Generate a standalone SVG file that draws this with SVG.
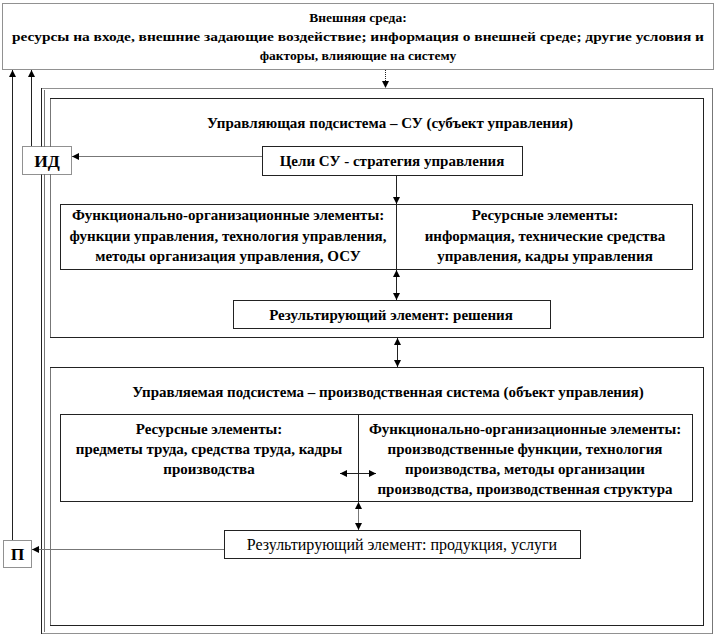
<svg xmlns="http://www.w3.org/2000/svg" width="716" height="637" viewBox="0 0 716 637" font-family="'Liberation Serif', 'DejaVu Serif', serif">
<defs>
<marker id="ah" viewBox="0 0 10 10" refX="10" refY="5" markerWidth="7" markerHeight="7" markerUnits="userSpaceOnUse" orient="auto-start-reverse"><path d="M0,0 L10,5 L0,10 z" fill="#000"/></marker>
</defs>
<style>
text{font-family:'Liberation Serif','DejaVu Serif',serif;font-size:15px;font-weight:bold;fill:#000;text-anchor:middle}
.top{font-size:13.5px}
.reg{font-weight:normal;font-size:16px}
.big{font-size:17.5px}
.box{fill:#fff;stroke:#222;stroke-width:1}
.dot{fill:#fff;stroke:#222;stroke-width:1;stroke-dasharray:1 1}
.ln{stroke:#222;stroke-width:1;fill:none}
.gl{stroke:#777;stroke-width:1;fill:none}
</style>
<rect width="716" height="637" fill="#fff"/>
<g id="env">
<rect class="dot" x="2.5" y="3.5" width="711" height="66"/>
<text class="top" x="358" y="22">Внешняя среда:</text>
<text class="top" x="358" y="41" textLength="692" lengthAdjust="spacingAndGlyphs">ресурсы на входе, внешние задающие воздействие; информация о внешней среде; другие условия и</text>
<text class="top" x="358" y="60">факторы, влияющие на систему</text>
</g>
<g id="frame">
<rect class="dot" x="41.5" y="88.5" width="671" height="545"/>
<line class="ln" x1="41.5" y1="88" x2="41.5" y2="634"/>
<line class="gl" x1="44.5" y1="90" x2="44.5" y2="632"/>
<line class="gl" x1="712.5" y1="88" x2="712.5" y2="634"/>
</g>
<g id="su">
<rect class="box" x="50.5" y="98.5" width="653" height="239"/>
<line class="gl" x1="50.5" y1="99" x2="50.5" y2="337"/>
<text x="390" y="128">Управляющая подсистема – СУ (субъект управления)</text>
</g>
<g id="id">
<rect class="dot" x="22.5" y="146.5" width="49" height="28"/>
<text class="big" x="47" y="167">ИД</text>
</g>
<g id="goals">
<rect class="box" x="262.5" y="146.5" width="260" height="29"/>
<text x="392" y="166">Цели СУ - стратегия управления</text>
</g>
<g id="su-elements">
<rect class="box" x="60.5" y="204.5" width="632" height="65"/>
<text x="228" y="220">Функционально-организационные элементы:</text>
<text x="228" y="241">функции управления, технология управления,</text>
<text x="228" y="261">методы организация управления, ОСУ</text>
<text x="545" y="220">Ресурсные элементы:</text>
<text x="545" y="241">информация, технические средства</text>
<text x="545" y="261">управления, кадры управления</text>
</g>
<g id="decisions">
<rect class="box" x="233.5" y="300.5" width="317" height="28"/>
<text x="391" y="320">Результирующий  элемент: решения</text>
</g>
<g id="prod">
<rect class="box" x="50.5" y="367.5" width="653" height="258"/>
<line class="gl" x1="50.5" y1="368" x2="50.5" y2="625"/>
<text x="388" y="397">Управляемая подсистема – производственная система (объект управления)</text>
</g>
<g id="prod-elements">
<rect class="box" x="60.5" y="414.5" width="632" height="87"/>
<line class="ln" x1="358.5" y1="415" x2="358.5" y2="501"/>
<text x="209" y="434">Ресурсные элементы:</text>
<text x="209" y="454">предметы труда, средства труда, кадры</text>
<text x="209" y="474">производства</text>
<text x="525" y="434">Функционально-организационные элементы:</text>
<text x="525" y="454">производственные функции, технология</text>
<text x="525" y="474">производства, методы организации</text>
<text x="525" y="494">производства, производственная структура</text>
</g>
<g id="products">
<rect class="box" x="224.5" y="530.5" width="356" height="28"/>
<text class="reg" x="402" y="550">Результирующий  элемент: продукция, услуги</text>
</g>
<g id="p">
<rect class="dot" x="3.5" y="540.5" width="28" height="27"/>
<text class="big" x="17.5" y="560">П</text>
</g>
<g id="connectors">
<line class="ln" x1="385.5" y1="70" x2="385.5" y2="88" stroke-dasharray="1 1" marker-end="url(#ah)"/>
<line class="ln" x1="12.5" y1="540" x2="12.5" y2="70" marker-end="url(#ah)"/>
<line class="ln" x1="31.5" y1="146" x2="31.5" y2="70" marker-end="url(#ah)"/>
<line class="gl" x1="262" y1="156.5" x2="72" y2="156.5" marker-end="url(#ah)"/>
<line class="ln" x1="396.5" y1="176" x2="396.5" y2="204" marker-end="url(#ah)"/>
<line class="ln" x1="396.5" y1="205" x2="396.5" y2="269"/>
<line class="ln" x1="396.5" y1="270" x2="396.5" y2="300" marker-start="url(#ah)" marker-end="url(#ah)"/>
<line class="ln" x1="397.5" y1="338" x2="397.5" y2="367" marker-start="url(#ah)" marker-end="url(#ah)"/>
<line class="ln" x1="340" y1="473.5" x2="376" y2="473.5" marker-start="url(#ah)" marker-end="url(#ah)"/>
<line class="gl" x1="358.5" y1="502" x2="358.5" y2="530" marker-start="url(#ah)" marker-end="url(#ah)"/>
<line class="gl" x1="224" y1="549.5" x2="32" y2="549.5" marker-end="url(#ah)"/>
</g>
</svg>
